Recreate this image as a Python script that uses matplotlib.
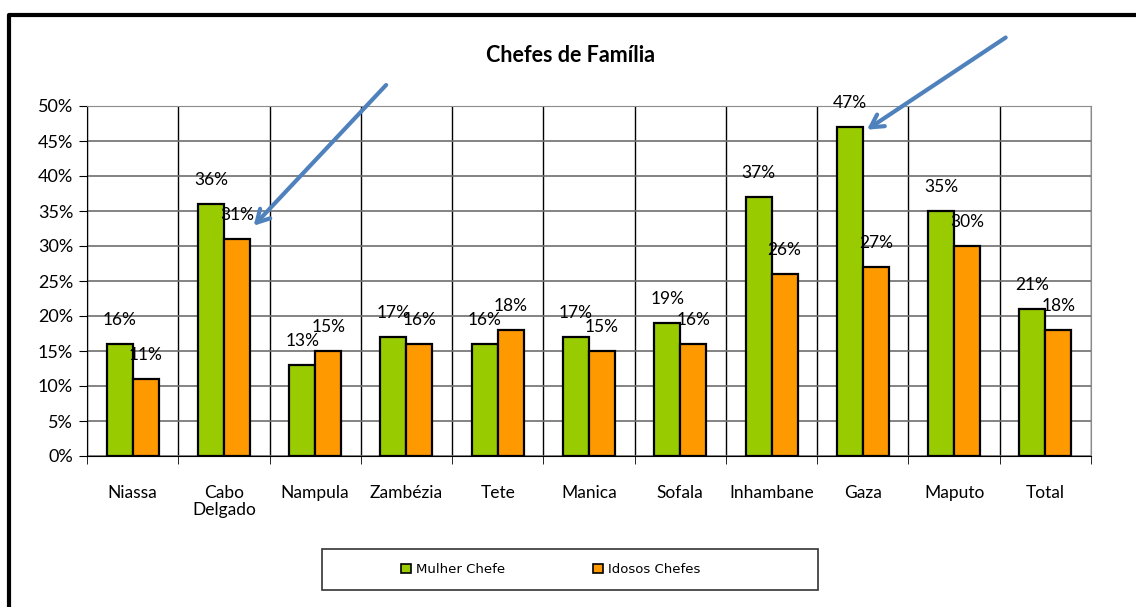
import matplotlib
matplotlib.use("Agg")
import matplotlib.pyplot as plt
from matplotlib.lines import Line2D
from matplotlib.patches import Rectangle, Patch
import numpy as np

# --- data ---
provincias = ['Niassa', 'Cabo\nDelgado', 'Nampula', 'Zambézia', 'Tete', 'Manica',
              'Sofala', 'Inhambane', 'Gaza', 'Maputo', 'Total']
mulher_chefe = [16, 36, 13, 17, 16, 17, 19, 37, 47, 35, 21]
idosos_chefes = [11, 31, 15, 16, 18, 15, 16, 26, 27, 30, 18]
y_ticks = [0, 5, 10, 15, 20, 25, 30, 35, 40, 45, 50]

W, H = 1136, 607
fig = plt.figure(figsize=(W / 100, H / 100), dpi=100)
ax = fig.add_axes([87 / W, 1 - 456 / H, (1091 - 87) / W, (456 - 106) / H])

x = np.arange(len(provincias))
bw = 0.285
ax.bar(x - bw / 2, mulher_chefe, bw, color='#99CC00', edgecolor='black', linewidth=1.6, zorder=3)
ax.bar(x + bw / 2, idosos_chefes, bw, color='#FF9900', edgecolor='black', linewidth=1.6, zorder=3)

lab_font = 'Lato'
for i in range(len(x)):
    ax.annotate(f'{mulher_chefe[i]}%', (x[i] - bw / 2, mulher_chefe[i]), xytext=(0, 17),
                textcoords='offset points', ha='center', va='center', fontsize=12.5,
                family=lab_font, zorder=5)
    ax.annotate(f'{idosos_chefes[i]}%', (x[i] + bw / 2, idosos_chefes[i]), xytext=(0, 17),
                textcoords='offset points', ha='center', va='center', fontsize=12.5,
                family=lab_font, zorder=5)

ax.set_xlim(-0.5, len(x) - 0.5)
ax.set_ylim(0, 50)
ax.set_yticks(y_ticks)
ax.set_yticklabels([f'{v}%' for v in y_ticks], fontsize=13, family=lab_font)
ax.set_xticks(x)
ax.set_xticklabels(provincias, fontsize=12.5, family=lab_font, va='top', linespacing=1.1)
ax.set_xticks(np.arange(-0.5, len(x), 1), minor=True)
ax.tick_params(axis='x', which='major', length=0, pad=21)
ax.tick_params(axis='x', which='minor', length=6, direction='out', color='black')
ax.tick_params(axis='y', length=6, direction='out', pad=4)

ax.yaxis.grid(True, color='#6e6e6e', linewidth=1.2, zorder=0)
ax.xaxis.grid(True, which='minor', color='black', linewidth=1.0, zorder=0)
ax.set_axisbelow(True)
for s in ['top', 'right']:
    ax.spines[s].set_color('#8c8c8c')
for s in ['left', 'bottom']:
    ax.spines[s].set_color('black')

fig.text(571 / W, 1 - 55 / H, 'Chefes de Família', ha='center', va='center',
         fontsize=15.5, fontweight='bold', family=lab_font)

# legend box
fig.patches.append(Rectangle((322 / W, 1 - 590 / H), 496 / W, 41 / H, transform=fig.transFigure,
                             facecolor='none', edgecolor='#333333', linewidth=1.2))
handles = [Patch(facecolor='#99CC00', edgecolor='black', linewidth=1.2),
           Patch(facecolor='#FF9900', edgecolor='black', linewidth=1.2)]
fig.legend(handles, ['Mulher Chefe', 'Idosos Chefes'], loc='center',
           bbox_to_anchor=(551 / W, 1 - 569.5 / H), ncol=2, frameon=False,
           fontsize=9.5, handlelength=0.75, handleheight=0.75, handletextpad=0.4,
           columnspacing=6.65)

# annotation arrows
arrow_kw = dict(arrowstyle='->,head_length=0.9,head_width=0.5', color='#4F81BD', lw=3)
ax.annotate('', xy=(1 + bw + 0.02, 32.6), xytext=(388 / W, 1 - 83 / H),
            textcoords='figure fraction', arrowprops=arrow_kw, zorder=6)
ax.annotate('', xy=(8 + 0.02, 46.4), xytext=(1008 / W, 1 - 36 / H),
            textcoords='figure fraction', arrowprops=arrow_kw, zorder=6)

# outer frame
fig.lines.append(Line2D([9 / W, 9 / W, 1], [0, 1 - 15 / H, 1 - 15 / H],
                        transform=fig.transFigure, color='black', linewidth=3))

fig.savefig('out.png', dpi=100)
